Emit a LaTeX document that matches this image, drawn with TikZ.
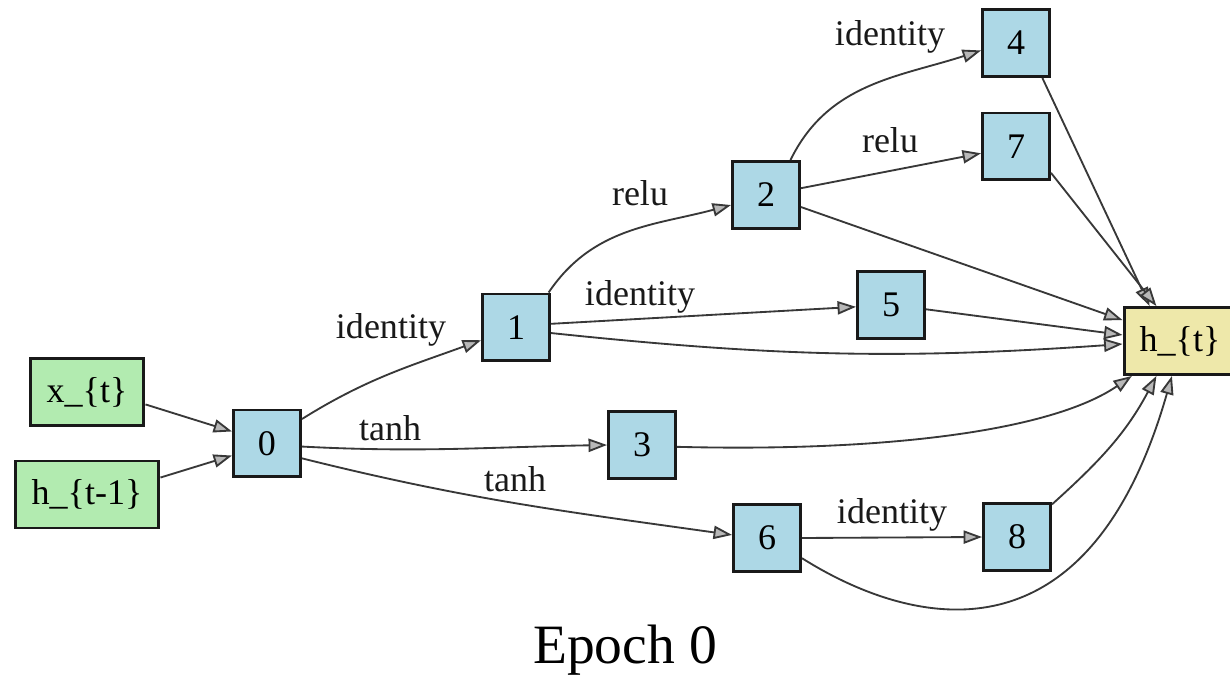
\documentclass[tikz,border=0pt]{standalone}
\usepackage{fontspec}
\setmainfont{Liberation Serif}
\usetikzlibrary{arrows.meta}
\definecolor{opblue}{HTML}{ADD8E6}
\definecolor{iogreen}{HTML}{B2EBB0}
\definecolor{outyellow}{HTML}{EEE8AA}
\definecolor{edgegray}{HTML}{383838}
\tikzset{
  box/.style={draw=black!90, line width=1.7pt, minimum width=1.34cm,
    minimum height=1.34cm, inner sep=0pt, font=\fontsize{20.5}{24}\selectfont},
  opnode/.style={box, fill=opblue},
  innode/.style={box, fill=iogreen},
  outnode/.style={box, fill=outyellow},
  edge/.style={draw=edgegray, line width=1.05pt,
    -{Triangle[length=10.5pt,width=7.5pt,fill=black!28]}},
  lbl/.style={font=\fontsize{20.5}{24}\selectfont, inner sep=0pt, text=black!90},
}
\begin{document}
\begin{tikzpicture}[x=0.02cm,y=0.02cm]
  \fill[white] (0,0) rectangle (1230,-678);
  \useasboundingbox (0,0) rectangle (1230,-678);

  % inputs and output
  \node[innode, minimum width=2.28cm] (xt) at (87,-392) {x\_\{t\}};
  \node[innode, minimum width=2.88cm] (htm) at (87,-494.5) {h\_\{t-1\}};
  \node[outnode, minimum width=2.24cm] (ht) at (1180,-341) {h\_\{t\}};

  % intermediate operation nodes
  \node[opnode] (n0) at (267,-443.5) {0};
  \node[opnode] (n1) at (516,-327.5) {1};
  \node[opnode] (n2) at (766,-195) {2};
  \node[opnode] (n3) at (642,-445) {3};
  \node[opnode] (n4) at (1016,-43) {4};
  \node[opnode] (n5) at (891,-305) {5};
  \node[opnode] (n6) at (767,-538) {6};
  \node[opnode] (n7) at (1016,-146.5) {7};
  \node[opnode] (n8) at (1017,-537) {8};

  % connections
  \draw[edge] (xt.-12) -- (n0.161);
  \draw[edge] (htm.13) -- (n0.199);
  \draw[edge] (n0.35) to[out=32,in=200] (n1.200);
  \draw[edge] (n0.-5) to[out=-3,in=181] (n3.180);
  \draw[edge] (n0.-23) to[out=-14,in=172] (n6.175);
  \draw[edge] (n1.47) to[out=56,in=195] (n2.196);
  \draw[edge] (n1.6) -- (n5.183);
  \draw[edge] (n1.-9) to[out=-6,in=184] (ht.183);
  \draw[edge] (n2.55) to[out=64,in=198] (n4.192);
  \draw[edge] (n2.11) -- (n7.191);
  \draw[edge] (n2.-19) -- (ht.160);
  \draw[edge] (n4.-53) -- (ht.131);
  \draw[edge] (n7.-37) -- (ht.124);
  \draw[edge] (n5.-7) -- (ht.174);
  \draw[edge] (n3.-3) .. controls (880,-452) and (1050,-432) .. (ht.216);
  \draw[edge] (n6.east) -- (n8.west);
  \draw[edge] (n8.43) to[out=42,in=242] (ht.236);
  \draw[edge] (n6.-30) .. controls (900,-620) and (1085,-680) .. (ht.257);

  % operation labels
  \node[lbl] (l01) at (391,-330) {identity};
  \node[lbl] (l03) at (390,-428) {tanh};
  \node[lbl] (l06) at (515,-479) {tanh};
  \node[lbl] (l12) at (640,-193) {relu};
  \node[lbl] (l15) at (640,-297) {identity};
  \node[lbl] (l24) at (890,-37) {identity};
  \node[lbl] (l27) at (890,-140) {relu};
  \node[lbl] (l68) at (892,-515) {identity};

  \node[font=\fontsize{31.6}{36}\selectfont, anchor=base, inner sep=0pt] (title)
    at (625,-663) {Epoch 0};
\end{tikzpicture}
\end{document}
